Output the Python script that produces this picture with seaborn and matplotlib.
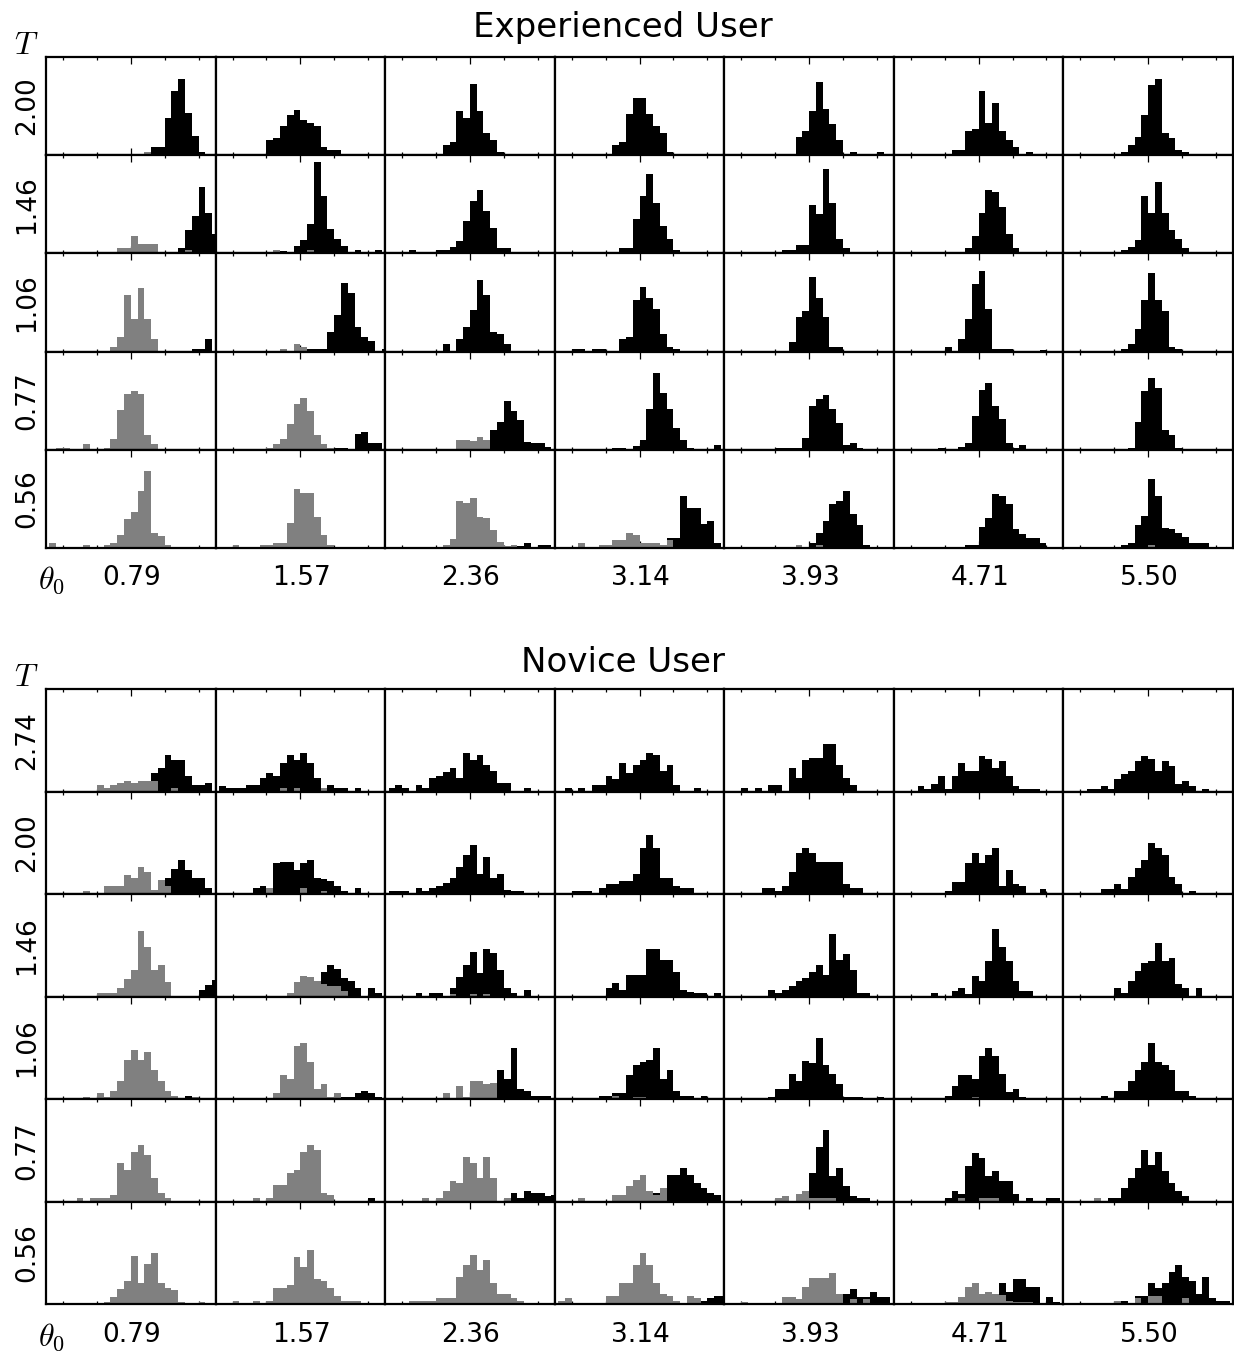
import numpy as np
import pandas as pd
import matplotlib
matplotlib.use("Agg")
import matplotlib.pyplot as plt
import seaborn as sns

sns.set_theme(style="white")
plt.rcParams["font.family"] = ["DejaVu Sans"]
plt.rcParams["mathtext.fontset"] = "cm"
plt.rcParams["text.color"] = "black"

# ---------------------------------------------------------------------------
# Column (initial angle) and row (duration) labels
THETA0_LABELS = ["0.79", "1.57", "2.36", "3.14", "3.93", "4.71", "5.50"]
EXP_T_LABELS = ["2.00", "1.46", "1.06", "0.77", "0.56"]
NOV_T_LABELS = ["2.74", "2.00", "1.46", "1.06", "0.77", "0.56"]

# Histogram bins: deviation from theta0, 26 bins of width 0.2 centred on -2.5 .. 2.5
N_BINS = 26
BIN_WIDTH = 0.2

# Each cell: (first non-empty bin, counts from that bin on); None = empty cell.
# DARK = reached angle distribution, LIGHT = second distribution drawn on top.
EXP_T200_DARK = [
    (16, [8, 8, 38, 65, 78, 43, 20, 3]),
    (8, [15, 18, 30, 41, 46, 36, 33, 30, 8, 5, 5]),
    (9, [10, 13, 45, 38, 73, 45, 23, 15, 3]),
    (9, [10, 13, 42, 58, 58, 42, 30, 23, 3]),
    (11, [19, 25, 45, 75, 47, 32, 15, 0, 3, 0, 0, 0, 3]),
    (9, [5, 5, 25, 27, 65, 33, 53, 25, 15, 8, 0, 3]),
    (9, [3, 10, 19, 41, 71, 78, 23, 18, 5, 3]),
]
EXP_T200_LIGHT = [(15, [3]), None, None, None, None, None, None]

EXP_T146_DARK = [
    (20, [5, 24, 38, 68, 41, 20]),
    (9, [2, 2, 0, 8, 14, 30, 93, 58, 25, 15, 8, 0, 3, 0, 0, 3]),
    (4, [3, 0, 0, 0, 3, 3, 7, 13, 33, 53, 65, 43, 26, 5, 5]),
    (10, [5, 5, 35, 58, 81, 51, 28, 15, 3]),
    (9, [3, 3, 9, 9, 49, 40, 86, 51, 15, 5]),
    (11, [5, 18, 41, 65, 63, 47, 20, 5]),
    (9, [3, 7, 14, 58, 41, 73, 41, 24, 15, 5]),
]
EXP_T146_LIGHT = [
    (11, [6, 6, 18, 10, 10, 10, 0, 0, 0, 0, 3]),
    (9, [3, 0, 0, 0, 0, 3]),
    None, None, None, None, None,
]

EXP_T106_DARK = [
    (22, [3, 3, 13]),
    (14, [3, 3, 3, 20, 37, 70, 60, 25, 15, 11, 0, 3]),
    (9, [8, 0, 13, 25, 42, 73, 58, 20, 18, 8]),
    (3, [3, 3, 0, 3, 3, 0, 0, 13, 15, 53, 66, 55, 43, 18, 5, 3]),
    (10, [10, 35, 41, 76, 55, 35, 5, 5]),
    (8, [5, 0, 13, 33, 69, 82, 43, 3, 3, 3, 0, 0, 0, 0, 2]),
    (9, [3, 8, 23, 53, 80, 53, 41, 5, 3]),
]
EXP_T106_LIGHT = [
    (10, [5, 15, 58, 33, 65, 33, 13]),
    (10, [3, 0, 8, 5]),
    None, None, None, None, None,
]

EXP_T077_DARK = [
    None,
    (18, [2, 2, 0, 16, 18, 7, 7]),
    (16, [20, 28, 50, 40, 30, 8, 7, 7, 3]),
    (9, [2, 2, 0, 4, 10, 42, 78, 58, 42, 22, 10, 2, 0, 0, 0, 5]),
    (8, [2, 2, 2, 2, 12, 45, 52, 56, 42, 27, 5, 7, 2]),
    (7, [2, 0, 0, 3, 7, 34, 61, 68, 45, 31, 7, 2, 5]),
    (10, [2, 28, 60, 73, 63, 20, 15, 2]),
]
EXP_T077_LIGHT = [
    (2, [2, 2, 0, 0, 6, 0, 0, 2, 11, 41, 57, 60, 57, 15, 6]),
    (8, [2, 6, 11, 26, 47, 53, 40, 15, 6, 2]),
    (11, [10, 10, 9, 13, 10]),
    None, None, None, None,
]

EXP_T056_DARK = [
    None,
    None,
    (20, [2, 5, 0, 3, 3]),
    (17, [10, 10, 53, 41, 41, 24, 28, 5]),
    (13, [5, 15, 28, 45, 48, 58, 35, 23, 3]),
    (11, [3, 3, 21, 31, 55, 53, 45, 19, 14, 10, 10, 5]),
    (9, [3, 5, 23, 33, 70, 53, 20, 19, 15, 11, 5, 5, 5]),
]
EXP_T056_LIGHT = [
    (1, [5, 1, 1, 1, 1, 3, 0, 0, 3, 5, 13, 30, 37, 58, 78, 15, 12, 3]),
    (3, [3, 0, 0, 0, 3, 3, 5, 5, 25, 60, 56, 56, 32, 13, 3]),
    (9, [3, 9, 48, 46, 51, 32, 31, 18, 6, 2, 3]),
    (4, [5, 0, 0, 3, 3, 8, 8, 15, 13, 5, 5, 5, 3, 8]),
    (11, [3, 0, 0, 3]),
    None,
    (13, [3]),
]

NOV_T274_DARK = [
    (16, [18, 23, 36, 31, 31, 15, 6, 6, 8]),
    (1, [5, 3, 3, 3, 6, 6, 13, 18, 15, 28, 36, 31, 38, 28, 13, 3, 6, 3, 3, 0, 3]),
    (1, [3, 6, 3, 0, 6, 3, 13, 15, 19, 23, 13, 38, 31, 36, 26, 20, 8, 8, 0, 0, 3]),
    (2, [3, 0, 3, 0, 6, 6, 15, 12, 28, 18, 26, 31, 38, 36, 20, 26, 6, 0, 0, 3]),
    (3, [3, 0, 3, 0, 6, 6, 0, 23, 13, 31, 33, 33, 46, 46, 26, 13, 6]),
    (4, [5, 2, 7, 15, 2, 15, 28, 20, 20, 35, 32, 23, 30, 15, 5, 2, 2, 2]),
    (4, [2, 2, 5, 2, 12, 17, 20, 30, 35, 32, 20, 30, 25, 7, 10, 5, 0, 2]),
]
NOV_T274_LIGHT = [
    (8, [6, 3, 6, 8, 10, 8, 10, 10, 10, 0, 0, 3]),
    (10, [3, 0, 3, 0, 0, 0, 3]),
    None, None, None, None, None,
]

NOV_T200_DARK = [
    (18, [16, 24, 33, 23, 16, 16, 6]),
    (6, [6, 8, 0, 30, 31, 31, 23, 30, 33, 16, 15, 13, 8, 3, 0, 6]),
    (1, [3, 3, 3, 0, 6, 3, 6, 8, 11, 16, 26, 38, 48, 20, 36, 16, 20, 4, 3, 3]),
    (3, [3, 3, 3, 0, 6, 10, 10, 13, 13, 20, 45, 58, 45, 16, 16, 8, 6, 6]),
    (6, [6, 6, 3, 8, 21, 40, 45, 40, 31, 31, 31, 31, 10, 6, 6]),
    (8, [3, 12, 12, 30, 40, 30, 38, 45, 8, 23, 10, 8, 0, 0, 5]),
    (6, [5, 5, 10, 5, 17, 25, 33, 50, 45, 38, 17, 10, 0, 3]),
]
NOV_T200_LIGHT = [
    (6, [3, 0, 0, 8, 8, 8, 19, 16, 26, 21, 4, 14, 8]),
    (8, [6, 0, 0, 0, 0, 6, 0, 0, 3]),
    None, None, None, None, None,
]

NOV_T146_DARK = [
    (23, [6, 11, 16]),
    (16, [24, 31, 27, 18, 15, 8, 0, 8, 3]),
    (5, [3, 0, 3, 3, 0, 8, 19, 31, 43, 23, 46, 42, 26, 8, 3, 0, 6]),
    (8, [8, 13, 6, 21, 21, 21, 46, 46, 36, 36, 24, 6, 4, 3, 3, 0, 3]),
    (7, [6, 3, 6, 10, 15, 18, 24, 31, 21, 61, 36, 41, 26, 3, 3]),
    (6, [3, 0, 0, 5, 8, 2, 20, 15, 35, 66, 48, 35, 15, 5, 5]),
    (8, [8, 3, 15, 25, 33, 35, 52, 35, 38, 12, 8, 0, 8]),
]
NOV_T146_LIGHT = [
    (8, [3, 3, 3, 8, 17, 26, 64, 48, 26, 31, 14]),
    (11, [3, 14, 20, 19, 15, 12, 10, 10, 5]),
    (10, [2, 0, 0, 2, 0, 2]),
    None, None, None, None,
]

NOV_T106_DARK = [
    (21, [3]),
    (19, [2, 2, 6, 8, 6, 2]),
    (17, [28, 20, 50, 10, 8, 3, 3, 3]),
    (7, [3, 3, 6, 6, 23, 33, 36, 38, 50, 20, 28, 8, 3, 3, 0, 3]),
    (7, [2, 10, 10, 24, 18, 37, 35, 60, 33, 24, 15, 2, 2, 2, 0, 0, 2]),
    (8, [3, 13, 23, 23, 20, 42, 50, 42, 24, 7, 10, 2]),
    (6, [3, 0, 8, 8, 18, 28, 36, 55, 36, 33, 28, 8, 8, 3, 1, 1]),
]
NOV_T106_LIGHT = [
    (6, [2, 0, 6, 2, 8, 18, 38, 48, 38, 46, 28, 18, 8, 3, 0, 0, 2]),
    (9, [6, 23, 20, 52, 55, 36, 10, 15, 2, 6]),
    (9, [6, 0, 13, 2, 18, 18, 15, 16]),
    (9, [3, 0, 0, 2, 2]),
    None,
    (12, [2]),
    None,
]

NOV_T077_DARK = [
    None,
    (23, [3]),
    (18, [3, 8, 3, 10, 8, 8, 5, 6]),
    (15, [8, 0, 26, 26, 33, 26, 18, 13, 8, 6]),
    (13, [28, 53, 70, 25, 33, 15, 5, 3, 3]),
    (8, [3, 10, 7, 35, 47, 42, 25, 30, 20, 20, 7, 0, 3, 0, 0, 3, 3]),
    (7, [3, 3, 13, 23, 33, 50, 36, 48, 30, 18, 10, 5]),
]
NOV_T077_LIGHT = [
    (5, [3, 0, 3, 3, 3, 6, 38, 31, 48, 55, 45, 23, 8, 3]),
    (6, [3, 0, 3, 16, 16, 28, 31, 48, 55, 50, 8, 6]),
    (6, [3, 0, 3, 10, 20, 18, 43, 38, 23, 43, 23, 0, 3]),
    (4, [3, 0, 0, 0, 0, 6, 6, 15, 21, 26, 10, 6, 13]),
    (8, [3, 5, 0, 7, 10, 3, 3, 3, 3]),
    (10, [3, 0, 0, 3, 3, 3]),
    (5, [3]),
]

NOV_T056_DARK = [
    None,
    None,
    None,
    (22, [3, 6, 8, 8]),
    (18, [10, 15, 7, 7, 12, 7, 7]),
    (16, [20, 12, 24, 24, 17, 17, 0, 7, 2]),
    (9, [3, 0, 8, 8, 20, 16, 20, 31, 38, 26, 22, 10, 26, 6, 3, 3]),
]
NOV_T056_LIGHT = [
    (9, [2, 7, 15, 22, 47, 20, 39, 50, 20, 16, 14, 2, 0, 0, 2]),
    (3, [3, 0, 0, 3, 0, 3, 16, 16, 19, 46, 36, 53, 24, 22, 16, 8, 3, 3, 3]),
    (4, [3, 3, 3, 3, 6, 6, 6, 26, 38, 48, 33, 43, 20, 10, 10, 6, 3]),
    (1, [3, 6, 0, 0, 0, 0, 0, 8, 8, 20, 20, 38, 50, 38, 20, 10, 8, 3, 0, 8, 6]),
    (3, [2, 0, 0, 0, 0, 0, 7, 7, 5, 17, 25, 25, 25, 30, 10, 0, 5, 0, 5]),
    (8, [2, 2, 7, 17, 20, 10, 12, 10, 9, 3, 2, 2, 2]),
    (8, [3, 0, 0, 6, 0, 8, 8, 0, 0, 0, 6]),
]

EXP_DARK = [EXP_T200_DARK, EXP_T146_DARK, EXP_T106_DARK, EXP_T077_DARK, EXP_T056_DARK]
EXP_LIGHT = [EXP_T200_LIGHT, EXP_T146_LIGHT, EXP_T106_LIGHT, EXP_T077_LIGHT, EXP_T056_LIGHT]
NOV_DARK = [NOV_T274_DARK, NOV_T200_DARK, NOV_T146_DARK, NOV_T106_DARK, NOV_T077_DARK, NOV_T056_DARK]
NOV_LIGHT = [NOV_T274_LIGHT, NOV_T200_LIGHT, NOV_T146_LIGHT, NOV_T106_LIGHT, NOV_T077_LIGHT, NOV_T056_LIGHT]

# ---------------------------------------------------------------------------
CENTERS = np.round(-2.5 + BIN_WIDTH * np.arange(N_BINS), 3)
BIN_RANGE = (-2.5 - BIN_WIDTH / 2, 2.5 + BIN_WIDTH / 2)
DARK_COLOR = "#000000"
LIGHT_COLOR = "#808080"

W, H = 1234, 1353
fig = plt.figure(figsize=(W / 100, H / 100), dpi=100)


def expand(cell):
    counts = np.zeros(N_BINS)
    if cell is not None:
        start, vals = cell
        counts[start:start + len(vals)] = vals
    return counts


def draw_cell(ax, dark, light):
    for cell, color in ((dark, DARK_COLOR), (light, LIGHT_COLOR)):
        counts = expand(cell)
        if counts.sum() == 0:
            continue
        df = pd.DataFrame({"deviation": CENTERS, "count": counts})
        sns.histplot(data=df, x="deviation", weights="count",
                     binwidth=BIN_WIDTH, binrange=BIN_RANGE, element="step",
                     fill=True, color=color, alpha=1, linewidth=0, ax=ax)
    ax.set(xlabel="", ylabel="")
    ax.set_xlim(-2.5, 2.5)
    ax.set_ylim(0, 100)
    ax.set_yticks([])
    ax.set_xticks([0])
    ax.set_xticks([-2, -1, 1, 2], minor=True)
    ax.set_xticklabels([])
    ax.tick_params(axis="x", which="both", direction="in", top=True,
                   bottom=True, labelbottom=False, color="black", width=0.9)
    ax.tick_params(axis="x", which="major", length=4.7)
    ax.tick_params(axis="x", which="minor", length=2.4)
    for sp in ax.spines.values():
        sp.set_color("black")
        sp.set_linewidth(1.6)
        sp.set_visible(True)


def draw_panel(top_px, bottom_px, t_labels, dark_rows, light_rows,
               title, title_px, t_px, theta_px):
    gs = fig.add_gridspec(len(t_labels), 7, left=46 / W, right=1233 / W,
                          top=1 - top_px / H, bottom=1 - bottom_px / H,
                          wspace=0, hspace=0)
    for r, (dark_row, light_row) in enumerate(zip(dark_rows, light_rows)):
        for c in range(7):
            ax = fig.add_subplot(gs[r, c])
            draw_cell(ax, dark_row[c], light_row[c])
            pos = ax.get_position()
            if c == 0:
                fig.text(27 / W, (pos.y0 + pos.y1) / 2, t_labels[r],
                         rotation=90, ha="center", va="center", fontsize=19)
            if r == len(t_labels) - 1:
                fig.text((pos.x0 + pos.x1) / 2 + 1 / W, 1 - theta_px / H,
                         THETA0_LABELS[c], ha="center", va="center", fontsize=19)
    fig.text(0.505, 1 - title_px / H, title, ha="center", va="center",
             fontsize=24.5)
    fig.text(26 / W, 1 - t_px / H, r"$T$", ha="center", va="center", fontsize=23)
    fig.text(52 / W, 1 - (theta_px + 2) / H, r"$\theta_0$", ha="center",
             va="center", fontsize=23)


draw_panel(57, 548, EXP_T_LABELS, EXP_DARK, EXP_LIGHT,
           "Experienced User", 27, 45, 578)
draw_panel(689, 1304, NOV_T_LABELS, NOV_DARK, NOV_LIGHT,
           "Novice User", 662, 678, 1335)

fig.savefig("out.png", dpi=100)
